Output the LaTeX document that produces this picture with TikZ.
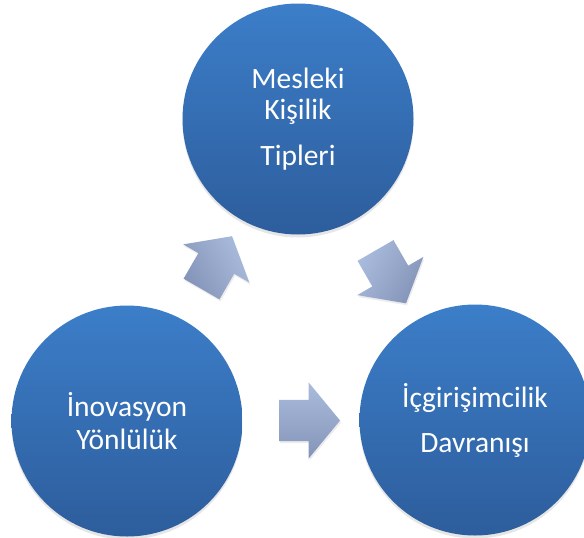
\documentclass[tikz,border=0pt]{standalone}
\usepackage{fontspec}
\setmainfont{Carlito}
\usetikzlibrary{calc,shapes.arrows,shadows}

\definecolor{daireust}{HTML}{3C7EC9}
\definecolor{dairealt}{HTML}{2D5D9C}
\definecolor{okust}{HTML}{AABCDE}
\definecolor{okalt}{HTML}{8494B8}

\begin{document}
\begin{tikzpicture}[x=1pt,y=-1pt,
    daire/.style={circle, minimum size=231pt, inner sep=0pt,
      top color=daireust, bottom color=dairealt, text=white, align=center,
      font=\fontsize{29.5}{33}\selectfont,
      drop shadow={shadow xshift=0pt, shadow yshift=-3pt, opacity=0.2}},
    blokok/.style={single arrow, minimum height=61pt, inner xsep=0pt,
      inner ysep=20.5pt, single arrow head extend=17.5pt,
      single arrow tip angle=101, top color=okust, bottom color=okalt,
      shading angle=-#1, rotate=#1,
      drop shadow={shadow xshift=1pt, shadow yshift=-2pt, opacity=0.15}}]
  \useasboundingbox (0,0) rectangle (584,538);

  % daireler
  \node[daire] (mesleki) at (298,119) {Mesleki\\[-2pt]Kişilik\\[13pt]Tipleri};
  \node[daire] (inovasyon) at (127,421) {İnovasyon\\Yönlülük};
  \node[daire] (icgirisim) at (475,420) {İçgirişimcilik\\[12pt]Davranışı};

  % oklar
  \node[blokok=60] (ok1) at ($(inovasyon)!0.5!(mesleki)$) {};
  \node[blokok=-60] (ok2) at ($(mesleki)!0.5!(icgirisim)$) {};
  \node[blokok=0] (ok3) at ($(inovasyon)!0.5!(icgirisim)$) {};
\end{tikzpicture}
\end{document}
